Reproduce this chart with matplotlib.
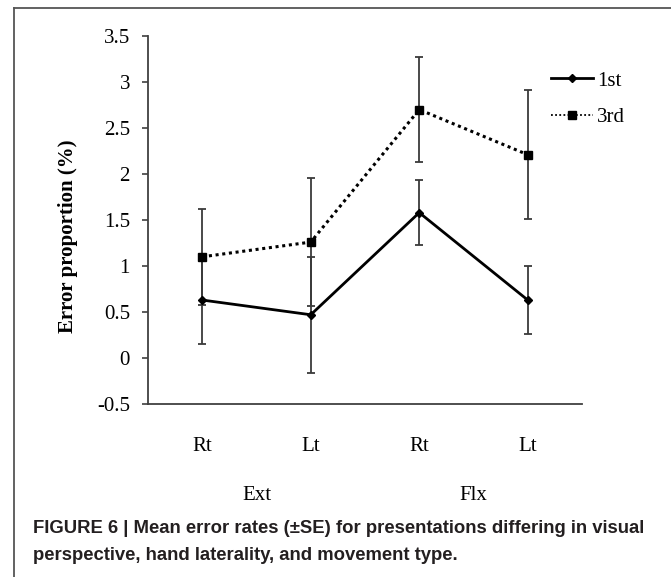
import matplotlib
matplotlib.use("Agg")
import matplotlib.pyplot as plt
from matplotlib.lines import Line2D
from matplotlib.transforms import blended_transform_factory

# values
hands = ["Rt", "Lt", "Rt", "Lt"]
movements = ["Ext", "Flx"]
first_mean = [0.63, 0.47, 1.58, 0.63]
first_se = [0.48, 0.63, 0.35, 0.37]
third_mean = [1.10, 1.26, 2.70, 2.21]
third_se = [0.52, 0.70, 0.57, 0.70]
yticks = [-0.5, 0, 0.5, 1, 1.5, 2, 2.5, 3, 3.5]

serif = "Liberation Serif"
sans = "Liberation Sans"
fs = 15
W, H = 671, 577

fig = plt.figure(figsize=(W / 100, H / 100), dpi=100)
ax = fig.add_axes([148 / W, (H - 404) / H, 434 / W, 368 / H])

x = list(range(len(hands)))
ebar_col = "#3a3a3a"
ax.errorbar(x, third_mean, yerr=third_se, fmt="none", ecolor=ebar_col,
            elinewidth=1.3, capsize=3.2, capthick=1.3, zorder=2)
ax.errorbar(x, first_mean, yerr=first_se, fmt="none", ecolor=ebar_col,
            elinewidth=1.3, capsize=3.2, capthick=1.3, zorder=2)
ax.plot(x, third_mean, linestyle=(0, (1, 1.2)), color="black", lw=2.2,
        marker="s", markersize=6, zorder=3)
ax.plot(x, first_mean, linestyle="-", color="black", lw=2,
        marker="D", markersize=4.5, zorder=3)

ax.set_xlim(-0.5, 3.5)
ax.set_ylim(-0.5, 3.5)
ax.set_yticks(yticks)
ax.set_yticklabels([f"{t:g}" for t in yticks], fontfamily=serif, fontsize=fs)
ax.set_xticks(x)
ax.set_xticklabels(hands, fontfamily=serif, fontsize=fs)
ax.tick_params(axis="x", length=0, pad=24)
ax.tick_params(axis="y", length=4, width=1.2, color="#404040", pad=9)
for s in ["top", "right"]:
    ax.spines[s].set_visible(False)
for s in ["left", "bottom"]:
    ax.spines[s].set_color("#404040")
    ax.spines[s].set_linewidth(1.3)

trans = blended_transform_factory(ax.transData, ax.transAxes)
for i, m in enumerate(movements):
    ax.text(2 * i + 0.5, -91 / 368, m, transform=trans, ha="center", va="center",
            fontfamily=serif, fontsize=fs)

fig.text(68 / W, 1 - 236 / H, "Error proportion (%)", rotation=90, ha="center",
         va="center", fontfamily=serif, fontweight="bold", fontsize=15)

handles = [
    Line2D([], [], color="black", lw=2, marker="D", markersize=4.5),
    Line2D([], [], color="black", lw=1.3, linestyle=(0, (1, 1.3)), marker="s", markersize=5.5),
]
fig.legend(handles, ["1st", "3rd"], loc="center left",
           bbox_to_anchor=(541 / W, 1 - 99 / H), frameon=False,
           prop={"family": serif, "size": fs}, handlelength=2.0,
           handletextpad=0.2, labelspacing=0.79, borderpad=0)

# figure frame (open at right and bottom)
border = "#555555"
fig.add_artist(Line2D([14 / W, 14 / W], [0, 1 - 8 / H], color=border, lw=1.3,
                      transform=fig.transFigure))
fig.add_artist(Line2D([14 / W, 1], [1 - 8 / H, 1 - 8 / H], color=border, lw=1.3,
                      transform=fig.transFigure))

cap_col = "#231f20"
fig.text(33 / W, 1 - 533 / H,
         "FIGURE 6 | Mean error rates (\u00b1SE) for presentations differing in visual",
         ha="left", va="baseline", fontfamily=sans, fontweight="bold",
         fontsize=13.3, color=cap_col)
fig.text(33 / W, 1 - 560 / H,
         "perspective, hand laterality, and movement type.",
         ha="left", va="baseline", fontfamily=sans, fontweight="bold",
         fontsize=13.3, color=cap_col)

fig.savefig("out.png", dpi=100)
